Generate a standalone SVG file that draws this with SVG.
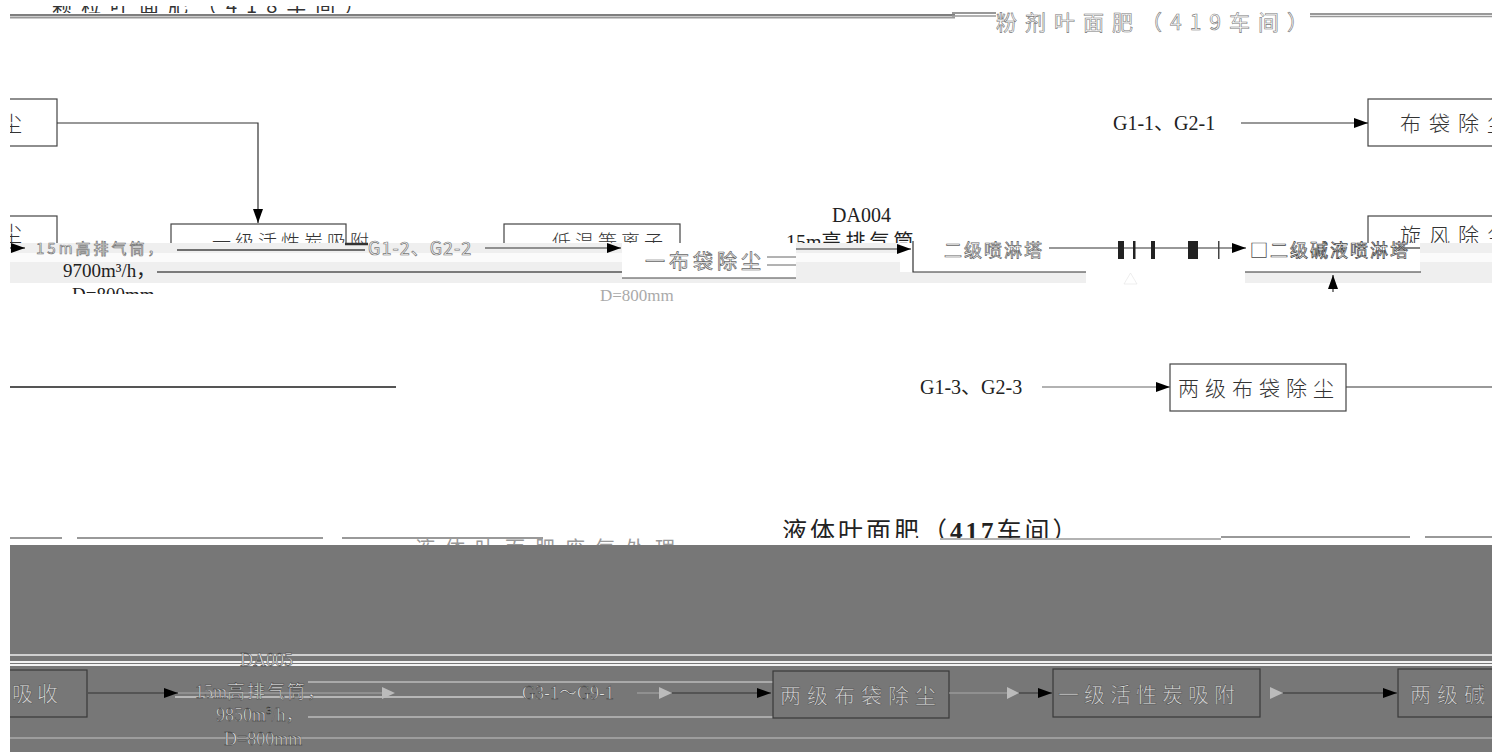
<svg xmlns="http://www.w3.org/2000/svg" width="1497" height="752" viewBox="0 0 1497 752">
<style>
.ln{stroke:#333;stroke-width:1.2;fill:none}
.lg{stroke:#555;stroke-width:2;fill:none}
.box{fill:#fff;stroke:#444;stroke-width:1.2}
.t{font-family:"Liberation Serif","Noto Sans CJK SC",serif;font-size:20px;fill:#222}
.cn{font-family:"Noto Sans CJK SC","Liberation Serif",serif;font-size:21px;fill:#333;letter-spacing:8px;font-weight:300}
.hol{font-family:"Noto Sans CJK SC","Liberation Serif",serif;font-size:19px;fill:#fff;stroke:#777;stroke-width:0.7;letter-spacing:3px}
.dk{fill:none;stroke:#3a3a3a;stroke-width:1.2}
.lt{font-family:"Liberation Serif","Noto Sans CJK SC",serif;font-size:18px;fill:#e2e2e2;stroke:#333;stroke-width:0.45}
.ltc{font-family:"Noto Sans CJK SC",serif;font-size:21px;fill:#d4d4d4;stroke:#444;stroke-width:0.45;letter-spacing:6px}
</style>
<defs>
<marker id="ah" markerWidth="14" markerHeight="10" refX="14" refY="5" orient="auto" markerUnits="userSpaceOnUse"><path d="M0,0 L14,5 L0,10 z" fill="#000"/></marker>
<clipPath id="cl"><rect x="10" y="0" width="1482" height="752"/></clipPath>
<clipPath id="topclip"><rect x="10" y="6" width="900" height="7"/></clipPath>
<clipPath id="bandtop"><rect x="10" y="0" width="1487" height="243"/></clipPath>
<clipPath id="dclip"><rect x="10" y="280" width="200" height="14"/></clipPath>
<clipPath id="titclip"><rect x="700" y="500" width="500" height="38"/></clipPath>
<clipPath id="fragclip"><rect x="400" y="537" width="340" height="9"/></clipPath>
</defs>
<rect width="1497" height="752" fill="#fff"/>
<g clip-path="url(#cl)">
<!-- top titles -->
<g id="title-top-left">
<text x="52" y="13" clip-path="url(#topclip)" style="font-family:'Noto Sans CJK SC',serif;font-size:20px;fill:#333;letter-spacing:9px">颗粒叶面肥（418车间）</text>
<line x1="10" y1="15" x2="955" y2="15" stroke="#555" stroke-width="1.5"/>
<line x1="10" y1="17.5" x2="955" y2="17.5" stroke="#999" stroke-width="2"/>
</g>
<g id="title-top-right">
<line x1="952" y1="13" x2="996" y2="13" stroke="#777" stroke-width="1.5"/>
<line x1="952" y1="16" x2="996" y2="16" stroke="#999" stroke-width="1.5"/>
<text x="996" y="30" class="hol" style="font-size:21px;letter-spacing:8px;stroke-width:0.6">粉剂叶面肥（419车间）</text>
<line x1="1310" y1="14" x2="1492" y2="14" stroke="#777" stroke-width="1.5"/>
<line x1="1310" y1="16.5" x2="1492" y2="16.5" stroke="#999" stroke-width="1.5"/>
</g>

<!-- row 1 -->
<g id="n-left1"><rect x="-60" y="99" width="117" height="47" class="box"/><text x="-28" y="131" class="cn">除尘</text></g>
<g id="n-left2"><rect x="-60" y="216" width="117" height="60" class="box"/><text x="-28" y="241" class="cn">除尘</text></g>
<g id="n-box-a"><rect x="171" y="224" width="175" height="50" class="box"/><text x="212" y="249" class="cn" style="font-size:19px;letter-spacing:4px">一级活性炭吸附</text></g>
<g id="n-box-b"><rect x="504" y="224" width="176" height="50" class="box"/><text x="552" y="249" class="cn" style="font-size:19px;letter-spacing:4px">低温等离子</text></g>
<g id="n-bag1"><rect x="1368" y="99" width="160" height="47" class="box"/><text x="1400" y="131" class="cn">布袋除尘</text></g>
<g id="n-cyc"><rect x="1368" y="216" width="160" height="60" class="box"/><text x="1400" y="243" class="cn">旋风除尘</text></g>

<!-- band row 2 -->
<rect x="10" y="243" width="1487" height="40" fill="#efefef"/>
<rect x="10" y="253" width="1487" height="9" fill="#fbfbfb"/>
<rect x="900" y="243" width="520" height="29" fill="#fff"/>
<rect x="1086" y="272" width="159" height="12" fill="#fff"/>
<rect x="622" y="243" width="174" height="35" fill="#fff"/>

<g id="connectors">
<polyline points="57,123 258,123 258,223" class="ln" marker-end="url(#ah)"/>
<line x1="1241" y1="123" x2="1368" y2="123" class="ln" marker-end="url(#ah)"/>
<line x1="10" y1="248" x2="25" y2="248" class="ln" marker-end="url(#ah)"/>
<line x1="177" y1="250" x2="365" y2="250" stroke="#444" stroke-width="1.5"/>
<line x1="345" y1="244" x2="368" y2="244" stroke="#333" stroke-width="2.5"/>
<line x1="485" y1="248" x2="621" y2="248" class="ln" marker-end="url(#ah)"/>
<line x1="157" y1="272" x2="622" y2="272" stroke="#555" stroke-width="1.3"/>
<line x1="767" y1="257" x2="796" y2="257" stroke="#666" stroke-width="1"/>
<line x1="767" y1="265" x2="796" y2="265" stroke="#666" stroke-width="1"/>
<line x1="622" y1="278" x2="796" y2="278" stroke="#444" stroke-width="1"/>
<line x1="796" y1="249" x2="911" y2="249" class="ln" marker-end="url(#ah)"/>
<polyline points="913,241 913,272 1086,272" class="ln"/>
<polyline points="1245,272 1421,272" class="ln"/>
<line x1="1049" y1="248" x2="1086" y2="248" class="ln"/>
<line x1="1086" y1="248" x2="1246" y2="248" class="ln" marker-end="url(#ah)"/>
<line x1="1395" y1="248" x2="1420" y2="248" class="ln"/>
<rect x="1118" y="241" width="6" height="18" fill="#222"/>
<rect x="1133" y="241" width="2.5" height="18" fill="#222"/>
<rect x="1151" y="241" width="4" height="18" fill="#222"/>
<rect x="1188" y="241" width="10" height="18" fill="#222"/>
<rect x="1218" y="241" width="1.5" height="18" fill="#444"/>
<path d="M1124,284 L1130.5,273 L1137,284 z" fill="#fff" stroke="#ddd" stroke-width="0.5"/>
<line x1="1333" y1="292" x2="1333" y2="275" class="ln" marker-end="url(#ah)"/>
<line x1="1042" y1="387" x2="1170" y2="387" stroke="#666" stroke-width="1.2" marker-end="url(#ah)"/>
<line x1="1346" y1="387" x2="1492" y2="387" stroke="#777" stroke-width="1.5"/>
<line x1="10" y1="387" x2="396" y2="387" class="lg"/>
</g>

<!-- row 2 texts -->
<g id="n-da004">
<text x="832" y="222" class="t">DA004</text>
<text x="786" y="249" clip-path="url(#bandtop)" class="t"><tspan>15m</tspan><tspan style="font-family:'Noto Sans CJK SC',serif;letter-spacing:4px">高排气筒</tspan></text>
</g>
<text x="36" y="254" class="hol" style="font-size:15px">15m高排气筒，</text>
<text x="368" y="255" class="hol" style="font-size:18px;letter-spacing:1px">G1-2、G2-2</text>
<g id="n-bag-mid"><text x="645" y="269" class="hol" style="font-size:20px;letter-spacing:4px;stroke:#666">一布袋除尘</text></g>
<text x="63" y="277" class="t" style="font-size:19px">9700m³/h，</text>
<text x="72" y="301" class="t" style="font-size:19px" clip-path="url(#dclip)">D=800mm</text>
<text x="600" y="301" class="t" style="font-size:17px;fill:#aaa">D=800mm</text>
<g id="n-spray1"><text x="944" y="257" class="hol" style="font-size:18px;letter-spacing:2px;stroke:#666">二级喷淋塔</text></g>
<g id="n-spray2"><text x="1250" y="257" class="hol" style="font-size:18px;letter-spacing:2px;stroke:#444">■二级碱液喷淋塔</text></g>

<text x="1113" y="130" class="t">G1-1、G2-1</text>

<!-- row 3 -->
<text x="920" y="394" class="t">G1-3、G2-3</text>
<g id="n-bag2"><rect x="1170" y="364" width="176" height="47" class="box"/><text x="1178" y="396" class="cn" style="letter-spacing:6px">两级布袋除尘</text></g>

<!-- bottom title -->
<g id="title-bottom">
<text x="782" y="540" clip-path="url(#titclip)" style="font-family:'Noto Sans CJK SC',serif;font-size:25px;fill:#222;letter-spacing:3px">液体叶面肥（<tspan style="font-family:'Liberation Serif';font-weight:bold">417</tspan>车间）</text>
<line x1="10" y1="538" x2="62" y2="538" stroke="#999" stroke-width="2"/>
<line x1="77" y1="538" x2="323" y2="538" stroke="#999" stroke-width="2"/>
<line x1="342" y1="538" x2="543" y2="538" stroke="#999" stroke-width="2"/>
<line x1="940" y1="539" x2="1221" y2="539" stroke="#999" stroke-width="1.5"/>
<line x1="1221" y1="537" x2="1410" y2="537" stroke="#999" stroke-width="2"/>
<line x1="1425" y1="537" x2="1497" y2="537" stroke="#999" stroke-width="2"/>
<text x="415" y="556" clip-path="url(#fragclip)" style="font-family:'Noto Sans CJK SC',serif;font-size:20px;fill:#999;letter-spacing:10px">液体叶面肥废气处理</text>
</g>

<!-- bottom gray section -->
<rect x="10" y="545" width="1487" height="207" fill="#777"/>
<line x1="10" y1="655" x2="1497" y2="655" stroke="#eee" stroke-width="1.5"/>
<rect x="10" y="661" width="1487" height="5" fill="#f2f2f2"/>
<line x1="10" y1="663.5" x2="1497" y2="663.5" stroke="#777" stroke-width="1"/>
<line x1="308" y1="682" x2="773" y2="682" stroke="#bbb" stroke-width="1.5"/>
<line x1="175" y1="697" x2="524" y2="697" stroke="#ccc" stroke-width="1.5"/>
<line x1="308" y1="717" x2="773" y2="717" stroke="#bbb" stroke-width="1.5"/>
<line x1="10" y1="738" x2="1497" y2="738" stroke="#aaa" stroke-width="1.5"/>

<g id="n-absorb"><rect x="-60" y="670" width="147" height="47" class="dk"/><text x="12" y="701" class="ltc" style="letter-spacing:4px">吸收</text></g>
<g id="n-da005">
<text x="240" y="666" class="lt">DA005</text>
<text x="195" y="698" class="lt">15m<tspan style="font-family:'Noto Sans CJK SC',serif;letter-spacing:2px">高排气筒</tspan>，</text>
<text x="216" y="721" class="lt">9850m<tspan dy="-7" style="font-size:11px">3</tspan><tspan dy="7">/h，</tspan></text>
<text x="224" y="745" class="lt">D=800mm</text>
</g>
<text x="522" y="699" class="lt">G3-1～G9-1</text>
<g id="n-bag3"><rect x="773" y="671" width="176" height="47" class="dk"/><text x="780" y="703" class="ltc">两级布袋除尘</text></g>
<g id="n-carbon"><rect x="1053" y="669" width="207" height="48" class="dk"/><text x="1058" y="702" class="ltc" style="letter-spacing:5px">一级活性炭吸附</text></g>
<g id="n-alkali"><rect x="1398" y="669" width="140" height="48" class="dk"/><text x="1410" y="702" class="ltc">两级碱喷淋</text></g>

<g id="connectors-bottom">
<line x1="88" y1="693" x2="178" y2="693" stroke="#333" stroke-width="1.2" marker-end="url(#ah)"/>
<line x1="178" y1="693" x2="382" y2="693" stroke="#aaa" stroke-width="1"/>
<path d="M382,687 L395,693 L382,699 z" fill="#bbb"/>
<line x1="637" y1="693" x2="659" y2="693" stroke="#aaa" stroke-width="1"/>
<path d="M659,687 L672,693 L659,699 z" fill="#bbb"/>
<line x1="672" y1="693" x2="771" y2="693" stroke="#333" stroke-width="1.2" marker-end="url(#ah)"/>
<line x1="949" y1="693" x2="1007" y2="693" stroke="#aaa" stroke-width="1"/>
<path d="M1007,687 L1019,693 L1007,699 z" fill="#bbb"/>
<line x1="1019" y1="693" x2="1052" y2="693" stroke="#333" stroke-width="1.2" marker-end="url(#ah)"/>
<path d="M1270,687 L1283,693 L1270,699 z" fill="#bbb"/>
<line x1="1283" y1="693" x2="1397" y2="693" stroke="#333" stroke-width="1.2" marker-end="url(#ah)"/>
</g>
</g>
</svg>
